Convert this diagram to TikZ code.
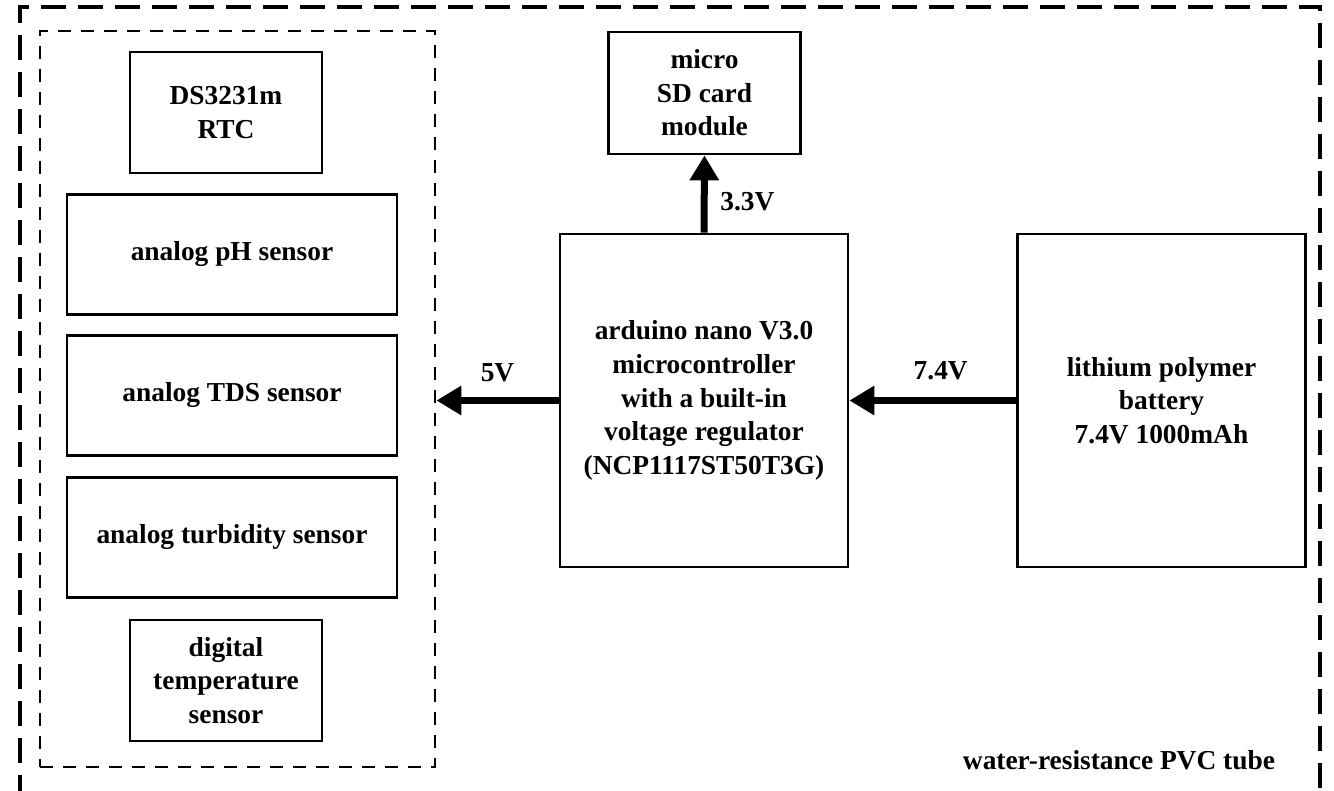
\documentclass[tikz,border=0pt]{standalone}
\usepackage{fontspec}
\setmainfont{Liberation Serif}
\usepackage{tikz}
\usetikzlibrary{arrows.meta,positioning}

\begin{document}
\begin{tikzpicture}[x=0.5pt,y=-0.5pt,font=\fontsize{13.7}{16.8}\selectfont\bfseries,
  blk/.style={draw,line width=1.4pt,align=center,inner sep=2pt},
  sml/.style={blk,minimum width=96pt,minimum height=60.5pt},
  wde/.style={blk,minimum width=165pt,minimum height=60pt},
  big/.style={blk,minimum width=144pt,minimum height=166.5pt},
  grp/.style={draw,line width=1.4pt,dash pattern=on 6.5pt off 5pt,minimum width=197.5pt,minimum height=368pt},
  pw/.style={-{Triangle[length=12.5pt,width=14pt]},line width=3.5pt}]
\useasboundingbox (0,0) rectangle (1334,791);
\clip (0,0) rectangle (1334,791);
% outer tube, open at the bottom
\draw[line width=1.7pt,dash pattern=on 12.5pt off 6pt] (20,800) |- (1320,7) -- (1320,800);
\node[anchor=east] (tube) at (1282,760) {water-resistance PVC tube};
% sensor group
\node[grp] (sens) at (237.5,399) {};
\node[sml] (rtc) at (226,112.5) {DS3231m\\ RTC};
\node[wde] (ph) at (232,254.5) {analog pH sensor};
\node[wde,below=9pt of ph] (tds) {analog TDS sensor};
\node[wde,below=9.5pt of tds] (turb) {analog turbidity sensor};
\node[sml] (temp) at (226,680.5) {digital\\ temperature\\ sensor};
% controller, storage, battery
\node[big] (mcu) at (704,400.5) {arduino nano V3.0\\ microcontroller\\ with a built-in\\ voltage regulator\\ (NCP1117ST50T3G)};
\node[sml,minimum height=61pt] (sd) at (704.5,93) {micro\\ SD card\\ module};
\node[big] (bat) at (1161.5,400.5) {lithium polymer\\ battery\\ 7.4V 1000mAh};
\draw[pw] (bat.west) -- node[above=5pt,xshift=4pt] {7.4V} (mcu.east);
\draw[pw] (mcu.west) -- node[above=4pt] {5V} (mcu.west -| sens.east);
\draw[pw] (mcu.north) -- node[right=3pt,pos=0.4] {3.3V} (sd.south);
\end{tikzpicture}
\end{document}
